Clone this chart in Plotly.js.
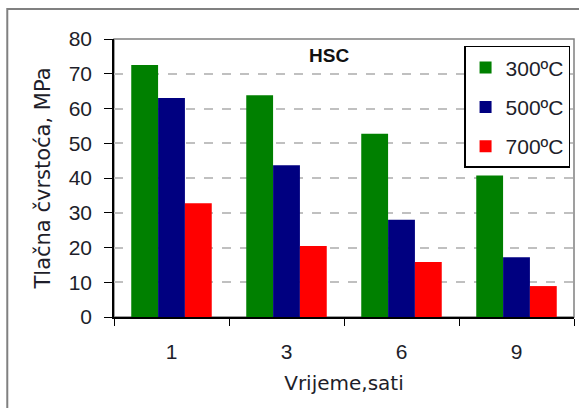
<!DOCTYPE html>
<html><head><meta charset="utf-8">
<script src="https://cdn.plot.ly/plotly-3.0.1.min.js"></script>
<style>body{margin:0;padding:0;background:#fff}#chart{width:579px;height:408px}</style>
</head><body><div id="chart"></div>
<script>
const categories = ["1", "3", "6", "9"];
const s300 = [72.5, 63.8, 52.7, 40.7];
const s500 = [63.0, 43.7, 28.0, 17.2];
const s700 = [32.7, 20.4, 15.8, 8.9];
const seriesNames = ["300ºC", "500ºC", "700ºC"];
const colors = ["#008000", "#000080", "#FF0000"];

const data = [s300, s500, s700].map((v, i) => ({
  type: "bar", x: categories, y: v, name: seriesNames[i], legendgroup: "g" + i,
  marker: {color: colors[i], line: {width: 0}}
}));

const txt = "#1e1e2a";
const arial = "Liberation Sans, Arial, sans-serif";
const verdana = "DejaVu Sans, Verdana, sans-serif";
const layout = {
  width: 579, height: 408,
  margin: {l: 114, r: 5, t: 39, b: 91},
  paper_bgcolor: "#fff", plot_bgcolor: "#fff",
  barmode: "group", bargap: 0.3, bargroupgap: 0,
  font: {family: arial, color: txt},
  showlegend: true,
  legend: {x: 0.761, y: 0.975, xanchor: "left", yanchor: "top",
    bordercolor: "#000", borderwidth: 1.5, bgcolor: "#fff",
    font: {family: arial, size: 21, color: txt},
    itemwidth: 30, tracegroupgap: 9},
  xaxis: {type: "category", tickson: "boundaries", ticks: "outside", ticklen: 7,
    tickcolor: "#000", showline: true, linecolor: "#000", linewidth: 1.5,
    tickfont: {family: arial, size: 21, color: txt}, ticklabelstandoff: 15,
    title: {text: "Vrijeme,sati", font: {family: verdana, size: 20, color: txt}, standoff: 14}},
  yaxis: {range: [0, 80], dtick: 10, ticks: "outside", ticklen: 8, tickcolor: "#000",
    showline: true, linecolor: "#000", linewidth: 1.5,
    showgrid: true, gridcolor: "#c0c0c0", griddash: "dash", gridwidth: 1.5,
    zeroline: false, tickfont: {family: arial, size: 21, color: txt}, ticklabelstandoff: 8,
    title: {text: "Tlačna čvrstoća, MPa", font: {family: verdana, size: 21, color: txt}, standoff: 12}},
  shapes: [
    {type: "rect", xref: "paper", yref: "paper", x0: 0, x1: 1, y0: 0, y1: 1,
     line: {color: "#808080", width: 1.5}, layer: "below"},
    {type: "rect", xref: "paper", yref: "paper", x0: -0.232, x1: 1.05, y0: -0.4, y1: 1.108,
     line: {color: "#808080", width: 2}, layer: "below"}
  ],
  annotations: [{text: "<b>HSC</b>", xref: "paper", yref: "paper", x: 0.467, y: 0.985,
    showarrow: false, font: {family: arial, size: 19, color: "#111"}}]
};
Plotly.newPlot("chart", data, layout, {displayModeBar: false});
</script></body></html>
